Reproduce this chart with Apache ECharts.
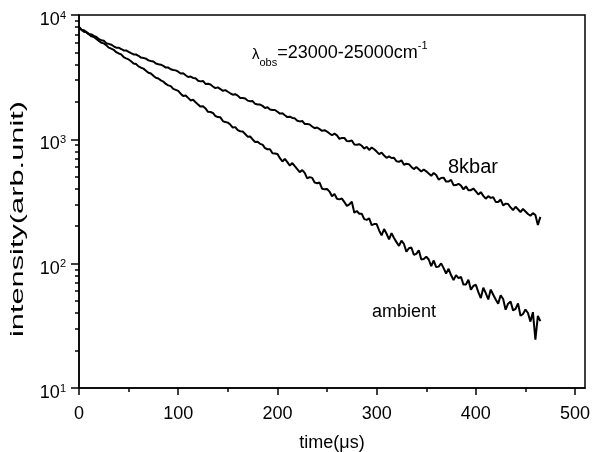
<!DOCTYPE html>
<html>
<head>
    <meta charset="utf-8">
    <title>decay</title>
    <script src="https://cdn.jsdelivr.net/npm/echarts@6/dist/echarts.min.js"></script>
    <style>
        html, body { margin: 0; padding: 0; background: #fff; }
    </style>
</head>
<body>
    <div id="main" style="width: 592px;height:452px;"></div>
    <script type="text/javascript">
    // time (us), one point every 2.5 us
    var time = [0, 2.5, 5, 7.5, 10, 12.5, 15, 17.5, 20, 22.5, 25, 27.5, 30, 32.5, 35, 37.5, 40, 42.5, 45, 47.5,
        50, 52.5, 55, 57.5, 60, 62.5, 65, 67.5, 70, 72.5, 75, 77.5, 80, 82.5, 85, 87.5, 90, 92.5, 95, 97.5,
        100, 102.5, 105, 107.5, 110, 112.5, 115, 117.5, 120, 122.5, 125, 127.5, 130, 132.5, 135, 137.5, 140, 142.5, 145, 147.5,
        150, 152.5, 155, 157.5, 160, 162.5, 165, 167.5, 170, 172.5, 175, 177.5, 180, 182.5, 185, 187.5, 190, 192.5, 195, 197.5,
        200, 202.5, 205, 207.5, 210, 212.5, 215, 217.5, 220, 222.5, 225, 227.5, 230, 232.5, 235, 237.5, 240, 242.5, 245, 247.5,
        250, 252.5, 255, 257.5, 260, 262.5, 265, 267.5, 270, 272.5, 275, 277.5, 280, 282.5, 285, 287.5, 290, 292.5, 295, 297.5,
        300, 302.5, 305, 307.5, 310, 312.5, 315, 317.5, 320, 322.5, 325, 327.5, 330, 332.5, 335, 337.5, 340, 342.5, 345, 347.5,
        350, 352.5, 355, 357.5, 360, 362.5, 365, 367.5, 370, 372.5, 375, 377.5, 380, 382.5, 385, 387.5, 390, 392.5, 395, 397.5,
        400, 402.5, 405, 407.5, 410, 412.5, 415, 417.5, 420, 422.5, 425, 427.5, 430, 432.5, 435, 437.5, 440, 442.5, 445, 447.5,
        450, 452.5, 455, 457.5, 460, 462.5, 465];

    // 8kbar
    var kbar8 = [8000, 7620, 7548, 7282, 7047, 6983, 6785, 6666, 6400, 6272, 6217, 5935, 5858, 5771, 5604, 5462, 5465, 5327, 5185, 5188,
        5056, 4934, 4820, 4812, 4700, 4543, 4513, 4458, 4318, 4260, 4231, 4075, 4020, 3984, 3896, 3779, 3776, 3659, 3609, 3586,
        3499, 3380, 3405, 3277, 3171, 3195, 3118, 3098, 2962, 2925, 2947, 2791, 2795, 2760, 2662, 2581, 2616, 2538, 2456, 2489,
        2414, 2347, 2285, 2307, 2247, 2149, 2152, 2133, 2048, 2027, 2030, 1930, 1909, 1905, 1858, 1788, 1809, 1737, 1719, 1722,
        1667, 1610, 1622, 1561, 1510, 1522, 1485, 1475, 1411, 1394, 1404, 1329, 1331, 1315, 1268, 1229, 1246, 1208, 1169, 1185,
        1155, 1114, 1079, 1112, 1077, 1009, 1027, 1025, 969, 965, 980, 909, 905, 914, 888, 842, 871, 822, 860, 832,
        797, 760, 781, 741, 710, 729, 708, 710, 666, 660, 678, 625, 636, 631, 600, 576, 598, 575, 551, 572,
        553, 530, 509, 536, 516, 474, 489, 492, 457, 458, 472, 428, 429, 439, 424, 396, 419, 389, 390, 402,
        382, 360, 376, 351, 333, 349, 338, 342, 314, 313, 328, 294, 304, 302, 284, 270, 287, 274, 260, 276,
        263, 251, 243, 255, 246, 205, 238];

    // ambient
    var ambient = [8000, 7595, 7322, 7248, 6988, 6729, 6660, 6421, 6197, 5989, 5913, 5714, 5463, 5369, 5244, 5026, 4904, 4818, 4590, 4479,
        4391, 4249, 4076, 4031, 3862, 3768, 3703, 3566, 3429, 3382, 3245, 3125, 3082, 2982, 2916, 2788, 2717, 2680, 2546, 2502,
        2454, 2330, 2229, 2252, 2155, 2056, 2078, 1988, 1906, 1833, 1843, 1772, 1665, 1658, 1630, 1540, 1510, 1503, 1403, 1376,
        1363, 1314, 1244, 1254, 1185, 1162, 1156, 1104, 1051, 1054, 998, 952, 955, 920, 907, 851, 832, 833, 772, 769,
        761, 706, 663, 697, 656, 614, 645, 608, 575, 545, 566, 537, 485, 497, 490, 449, 443, 449, 401, 396,
        399, 380, 349, 364, 333, 329, 334, 313, 291, 300, 315, 257, 265, 252, 252, 228, 225, 231, 204, 208,
        208, 185, 169, 190, 174, 157, 176, 161, 149, 139, 153, 144, 125, 133, 135, 118, 120, 128, 108, 109,
        114, 108, 95.6, 106, 93.8, 94.7, 100.5, 92.1, 83.3, 90.9, 81.0, 73.7, 80.8, 76.6, 78.4, 67.9, 67.9, 74.3, 61.8, 66.3,
        67.7, 59.0, 52.9, 64.0, 58.0, 51.5, 61.9, 56.2, 51.5, 47.7, 55.8, 51.9, 42.6, 47.7, 49.6, 42.1, 43.3, 47.9, 38.1, 39.4,
        42.7, 40.1, 34.2, 40.7, 24.5, 38.0, 34.5];

    var xTicks = [0, 100, 200, 300, 400, 500];
    var xMinor = [50, 150, 250, 350, 450];
    var yMajor = [10, 100, 1000, 10000];
    var yMinor = [20, 30, 40, 50, 60, 70, 80, 90, 200, 300, 400, 500, 600, 700, 800, 900,
        2000, 3000, 4000, 5000, 6000, 7000, 8000, 9000];

    var FONT = 'Liberation Sans, Arial, sans-serif';

    function pairs(xs, ys) {
        var out = [];
        for (var i = 0; i < xs.length; i++) out.push([xs[i], ys[i]]);
        return out;
    }

    var myChart = echarts.init(document.getElementById('main'));

    var option = {
        animation: false,
        backgroundColor: '#fff',
        grid: {
            left: 79, right: 7, top: 15, bottom: 64,
            outerBoundsMode: 'none',
            show: true, borderColor: '#000', borderWidth: 1.5
        },
        xAxis: [{
            type: 'value', min: 0, max: 510,
            axisLine: { onZero: false, lineStyle: { color: '#000', width: 1.5 } },
            axisTick: { customValues: xTicks, length: 7, lineStyle: { color: '#000', width: 1.5 } },
            axisLabel: { customValues: xTicks, color: '#000', fontSize: 18, fontFamily: FONT, margin: 17 },
            splitLine: { show: false },
            name: 'time(μs)', nameLocation: 'middle', nameGap: 46,
            nameTextStyle: { color: '#000', fontSize: 18, fontFamily: FONT }
        }, {
            type: 'value', min: 0, max: 510, position: 'bottom',
            axisLine: { show: false },
            axisTick: { customValues: xMinor, length: 4, lineStyle: { color: '#000', width: 1.5 } },
            axisLabel: { show: false },
            splitLine: { show: false }
        }],
        yAxis: [{
            type: 'log', logBase: 10, min: 10, max: 10000,
            axisLine: { lineStyle: { color: '#000', width: 1.5 } },
            axisTick: { customValues: yMajor, length: 8, lineStyle: { color: '#000', width: 1.5 } },
            axisLabel: {
                customValues: yMajor, margin: 13,
                formatter: function (v) {
                    return '{b|10}{s|' + Math.round(Math.log10(v)) + '}';
                },
                rich: {
                    b: { fontSize: 18, fontFamily: FONT, color: '#000', verticalAlign: 'bottom' },
                    s: { fontSize: 11, fontFamily: FONT, color: '#000', lineHeight: 28, verticalAlign: 'top', padding: [9, 0, 0, 0] }
                }
            },
            splitLine: { show: false }
        }, {
            type: 'log', logBase: 10, min: 10, max: 10000, position: 'left',
            axisLine: { show: false },
            axisTick: { customValues: yMinor, length: 4, lineStyle: { color: '#000', width: 1.5 } },
            axisLabel: { show: false },
            splitLine: { show: false }
        }],
        graphic: [{
            type: 'text', x: 18, y: 219, rotation: Math.PI / 2, scaleX: 1.62,
            style: { text: 'intensity(arb.unit)', font: '19px ' + FONT, fill: '#000', align: 'center', verticalAlign: 'middle' }
        }, {
            type: 'text', left: 252, top: 38,
            style: {
                text: '{l|λ}{sub|obs}{n|=23000-25000cm}{sup|-1}',
                fill: '#000',
                rich: {
                    l: { fontSize: 15, fontFamily: FONT, lineHeight: 15, verticalAlign: 'bottom', padding: [0, 0, 6, 0] },
                    sub: { fontSize: 11, fontFamily: FONT, lineHeight: 11, verticalAlign: 'bottom', padding: [0, 0, 0, 0] },
                    n: { fontSize: 18, fontFamily: FONT, lineHeight: 30, verticalAlign: 'middle' },
                    sup: { fontSize: 11, fontFamily: FONT, lineHeight: 11, verticalAlign: 'top', padding: [2, 0, 0, 0] }
                }
            }
        }, {
            type: 'text', left: 448, top: 157,
            style: { text: '8kbar', font: '20px ' + FONT, fill: '#000' }
        }, {
            type: 'text', left: 372, top: 303,
            style: { text: 'ambient', font: '18px ' + FONT, fill: '#000' }
        }],
        series: [{
            name: '8kbar', type: 'line', xAxisIndex: 0, yAxisIndex: 0,
            data: pairs(time, kbar8), showSymbol: false,
            lineStyle: { color: '#000', width: 2 }
        }, {
            name: 'ambient', type: 'line', xAxisIndex: 0, yAxisIndex: 0,
            data: pairs(time, ambient), showSymbol: false,
            lineStyle: { color: '#000', width: 2 }
        }]
    };

    myChart.setOption(option);
    </script>
</body>
</html>
